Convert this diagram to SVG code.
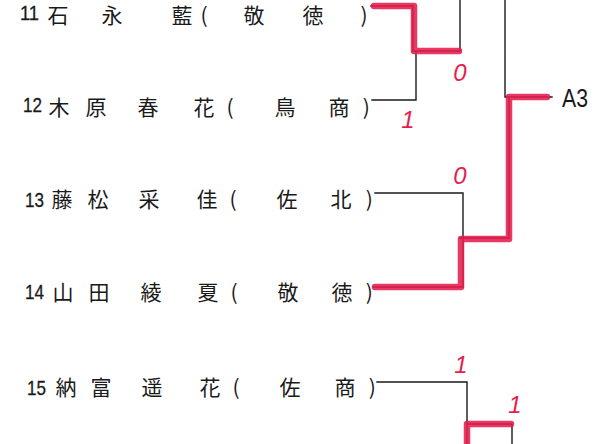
<svg xmlns="http://www.w3.org/2000/svg" width="594" height="444" viewBox="0 0 594 444">
<style>
.nm{font-family:"Noto Sans CJK JP","Noto Sans CJK SC",sans-serif;font-size:21px;fill:#1a1a1a;text-anchor:middle;dominant-baseline:central}
.num{font-family:"Liberation Sans",Arial,sans-serif;font-size:21px;fill:#1a1a1a;stroke:#1a1a1a;stroke-width:0.3}
.blk{fill:none;stroke:#1a1a1a;stroke-width:1.4;stroke-linecap:square}
.red{fill:none;stroke:#e61e4d;stroke-width:6.5;stroke-linejoin:round;stroke-linecap:round;stroke-opacity:0.88}
.sc{font-family:"Liberation Sans",Arial,sans-serif;font-style:italic;font-size:24px;fill:#e61e4d;text-anchor:middle}
</style>
<rect width="594" height="444" fill="#ffffff"/>
<g id="p11">
<text class="num" x="20" y="20" textLength="19" lengthAdjust="spacingAndGlyphs">11</text>
<text class="nm" x="58 85 112 147 182 204 229 254 283 313 338 364" y="13.5">石 永 藍( 敬 徳 )</text>
</g>
<g id="p12">
<text class="num" x="23" y="112" textLength="19" lengthAdjust="spacingAndGlyphs">12</text>
<text class="nm" x="59 78 96 122 148 183 204 230 256 285 314 339 364" y="106">木 原 春 花( 鳥 商 )</text>
</g>
<g id="p13">
<text class="num" x="25" y="207" textLength="19" lengthAdjust="spacingAndGlyphs">13</text>
<text class="nm" x="62 80 98 124 149 186 207 233 258 287 315 341 367" y="198">藤 松 采 佳( 佐 北 )</text>
</g>
<g id="p14">
<text class="num" x="25" y="299" textLength="19" lengthAdjust="spacingAndGlyphs">14</text>
<text class="nm" x="63 81 99 125 151 187 208 234 259 288 317 342 367" y="291">山 田 綾 夏( 敬 徳 )</text>
</g>
<g id="p15">
<text class="num" x="27" y="395" textLength="19" lengthAdjust="spacingAndGlyphs">15</text>
<text class="nm" x="66 84 101 127 152 187 210 236 261 290 319 345 370" y="386">納 富 遥 花( 佐 商 )</text>
</g>
<g id="a3">
<text x="562" y="107" font-family="'Liberation Sans',Arial,sans-serif" font-size="25" fill="#1a1a1a" textLength="26" lengthAdjust="spacingAndGlyphs">A3</text>
</g>
<g id="connectors">
<path class="blk" d="M460,0 V51 M505,0 V97 H552 M371,6 H413 V51 H460 M372,100 H416 V51 M375,193 H463 V287 H373 M460,238 H509 V97 M377,382 H467 V444 M467,424 H512 V444"/>
<path class="red" d="M374,6 H414 V51 H459"/>
<path class="red" d="M375,287 H461 V239 H509 V97 H547"/>
<path class="red" d="M467,444 V424 H511"/>
</g>
<g id="scores">
<text class="sc" x="460" y="81">0</text>
<text class="sc" x="408" y="128">1</text>
<text class="sc" x="460" y="184">0</text>
<text class="sc" x="461" y="373">1</text>
<text class="sc" x="515" y="413">1</text>
</g>
</svg>
